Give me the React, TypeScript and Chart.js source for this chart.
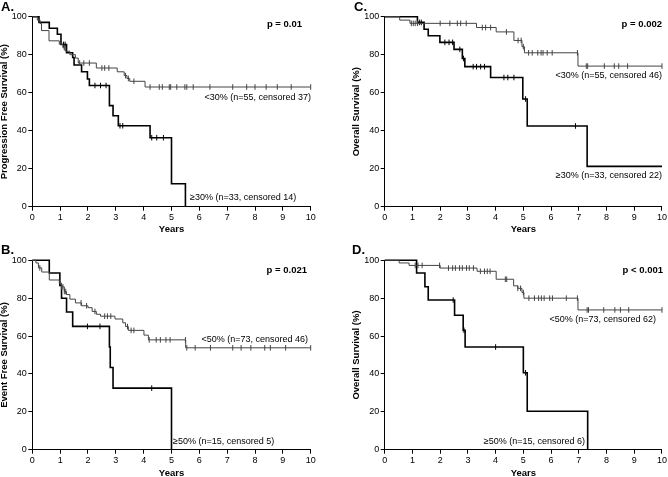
import React, { useEffect, useRef } from "react";
import { Chart, registerables } from "chart.js";
Chart.register(...registerables);

// ---------- Data (years, survival %) ----------
const xTickValues = [0, 1, 2, 3, 4, 5, 6, 7, 8, 9, 10];
const yTickValues = [0, 20, 40, 60, 80, 100];

// Panel A: Progression Free Survival
const aLowTimes = [0, 0.18, 0.28, 0.33, 0.6, 0.97, 1.1, 1.2, 1.35, 1.55, 1.65, 2.3, 3.05, 3.3, 3.4, 3.5, 4.05, 10];
const aLowSurv = [100, 98.2, 96.4, 92.7, 87.3, 85.5, 83.6, 81.8, 80, 78.2, 75.6, 73, 71, 69, 67.5, 66, 63, 63];
const aLowCensor = [1.15, 1.7, 1.85, 2.05, 2.5, 2.6, 2.75, 3.35, 3.45, 3.65, 4.23, 4.56, 4.67, 4.92, 4.97, 5.19, 5.48, 5.55, 5.78, 6.38, 7.2, 7.7, 8.0, 8.4, 8.8, 9.3, 10];
const aHighTimes = [0, 0.24, 0.61, 0.9, 1.03, 1.23, 1.45, 1.5, 1.77, 1.98, 2.05, 2.77, 2.9, 3.09, 4.23, 5.0, 5.5];
const aHighSurv = [100, 97, 93.9, 90.8, 85.4, 81, 78.5, 74.6, 71, 67.2, 63.8, 53.2, 47.9, 42.6, 36.3, 12.1, 0];
const aHighCensor = [1.12, 1.18, 2.25, 2.45, 2.65, 3.15, 3.25, 4.29, 4.47, 4.71];

// Panel B: Event Free Survival
const bLowTimes = [0, 0.13, 0.22, 0.34, 0.61, 0.97, 1.05, 1.15, 1.23, 1.35, 1.55, 1.77, 2.0, 2.15, 2.3, 2.45, 2.97, 3.25, 3.35, 3.45, 4.01, 4.17, 5.51, 10];
const bLowSurv = [100, 98.6, 96, 93.8, 89.6, 88, 86, 83.5, 81.9, 79.5, 77.5, 76, 75, 73, 71.5, 70.5, 69, 67, 65, 63, 60.5, 58, 53.8, 53.8];
const bLowCensor = [0.27, 1.05, 1.1, 1.15, 1.2, 1.75, 1.95, 2.25, 2.6, 2.7, 2.82, 3.42, 3.55, 3.65, 4.2, 4.45, 4.6, 4.8, 4.95, 5.5, 5.55, 5.85, 6.4, 7.2, 7.5, 7.85, 8.35, 8.55, 9.1, 10];
const bHighTimes = [0, 0.61, 0.99, 1.05, 1.23, 1.45, 2.77, 2.8, 2.9, 5.0];
const bHighSurv = [100, 93.3, 86.7, 80, 72.7, 65.1, 54.2, 43.4, 32.5, 0];
const bHighCensor = [1.98, 2.43, 4.29];

// Panel C: Overall Survival (30% cut-off)
const cLowTimes = [0, 0.54, 0.91, 3.31, 4.02, 4.66, 4.95, 5.04, 6.97, 10];
const cLowSurv = [100, 98.2, 96.5, 94.3, 92, 87.5, 84.2, 81, 74, 74];
const cLowCensor = [0.96, 1.03, 1.1, 1.18, 2.0, 2.35, 2.62, 2.74, 2.94, 3.52, 3.64, 3.82, 4.39, 4.81, 4.92, 5.0, 5.19, 5.32, 5.52, 5.64, 5.71, 5.86, 6.04, 6.95, 7.27, 7.32, 7.92, 8.28, 8.44, 8.76, 10];
const cHighTimes = [0, 1.18, 1.42, 1.57, 1.99, 2.5, 2.8, 2.89, 3.82, 4.98, 5.14, 7.3, 10];
const cHighSurv = [100, 97, 93.4, 90, 86.5, 82.8, 78, 73.7, 68, 56.7, 42.5, 21.2, 21.2];
const cHighCensor = [1.25, 1.32, 2.17, 2.32, 2.45, 2.71, 2.84, 3.19, 3.31, 3.46, 3.6, 4.3, 4.44, 4.66, 5.08, 6.88];

// Panel D: Overall Survival (50% cut-off)
const dLowTimes = [0, 0.52, 0.88, 2.0, 3.33, 4.02, 4.65, 4.8, 4.95, 5.02, 6.97, 10];
const dLowSurv = [100, 98.6, 97.3, 95.9, 94.2, 90, 86.5, 85.2, 83, 80, 73.8, 73.8];
const dLowCensor = [1.1, 1.2, 1.35, 1.98, 2.3, 2.45, 2.55, 2.7, 2.8, 2.95, 3.05, 3.2, 3.45, 3.6, 3.7, 3.8, 4.35, 4.4, 4.8, 4.9, 5.0, 5.2, 5.4, 5.55, 5.65, 5.75, 5.95, 6.05, 6.55, 6.95, 7.3, 7.35, 7.9, 8.3, 8.5, 8.8, 10];
const dHighTimes = [0, 1.15, 1.45, 1.57, 2.52, 2.83, 2.9, 5.0, 5.14, 7.32];
const dHighSurv = [100, 93.3, 86, 79, 71, 63, 54.2, 40.6, 20.3, 0];
const dHighCensor = [2.47, 2.86, 4.0, 5.08];

// ---------- Helpers ----------
const FONT = '"Liberation Sans", Arial, Helvetica, sans-serif';
const LOW_COLOR = "#444";
const HIGH_COLOR = "#000";

function survAt(times: number[], surv: number[], t: number) {
  let v = surv[0];
  for (let i = 0; i < times.length; i++) if (times[i] <= t) v = surv[i];
  return v;
}

function stepDataset(times: number[], surv: number[], color: string, width: number) {
  return {
    data: times.map((t, i) => ({ x: t, y: surv[i] })),
    borderColor: color,
    backgroundColor: color,
    borderWidth: width,
    pointRadius: 0,
    pointHoverRadius: 0,
    stepped: "before",
    fill: false,
    tension: 0,
    clip: false,
  };
}

function censorDataset(times: number[], surv: number[], cens: number[], color: string) {
  return {
    data: cens.map((t) => ({ x: t, y: survAt(times, surv, t) })),
    showLine: false,
    pointStyle: "line",
    rotation: 90,
    pointRadius: 2.8,
    pointHoverRadius: 2.8,
    borderColor: color,
    backgroundColor: color,
    pointBorderWidth: 1,
    borderWidth: 1,
    clip: false,
  };
}

const textPlugin = {
  id: "panelText",
  afterDraw(chart: any, _args: any, opts: any) {
    const ctx = chart.ctx;
    for (const t of opts.items || []) {
      ctx.save();
      ctx.font = t.font;
      ctx.fillStyle = "#000";
      ctx.textAlign = t.align;
      ctx.textBaseline = "alphabetic";
      ctx.fillText(t.text, t.x, t.y);
      ctx.restore();
    }
  },
};

type PanelCfg = {
  left: number; top: number; w: number; h: number;
  yWidth: number; xHeight: number; padTop: number; padRight: number;
  yTitle: string; yTitlePad: number; xTitlePad: number;
  low: [number[], number[], number[]];
  high: [number[], number[], number[]];
  texts: { text: string; x: number; y: number; align: string; font: string }[];
};

const LETTER_FONT = `bold 13px ${FONT}`;
const P_FONT = `bold 9.5px ${FONT}`;
const ANN_FONT = `9px ${FONT}`;

const panels: PanelCfg[] = [
  {
    left: 0, top: 0, w: 334, h: 238, yWidth: 32.3, xHeight: 31.3, padTop: 16.7, padRight: 23.3,
    yTitle: "Progression Free Survival (%)", yTitlePad: 0, xTitlePad: 4.7,
    low: [aLowTimes, aLowSurv, aLowCensor], high: [aHighTimes, aHighSurv, aHighCensor],
    texts: [
      { text: "A.", x: 1, y: 10.5, align: "left", font: LETTER_FONT },
      { text: "p = 0.01", x: 302, y: 27, align: "right", font: P_FONT },
      { text: "<30% (n=55, censored 37)", x: 311, y: 100, align: "right", font: ANN_FONT },
      { text: "\u226530% (n=33, censored 14)", x: 190, y: 200, align: "left", font: ANN_FONT },
    ],
  },
  {
    left: 334, top: 0, w: 334, h: 238, yWidth: 50.7, xHeight: 31.3, padTop: 16.7, padRight: 5.7,
    yTitle: "Overall Survival (%)", yTitlePad: 18, xTitlePad: 4.7,
    low: [cLowTimes, cLowSurv, cLowCensor], high: [cHighTimes, cHighSurv, cHighCensor],
    texts: [
      { text: "C.", x: 20, y: 10.5, align: "left", font: LETTER_FONT },
      { text: "p = 0.002", x: 328, y: 27, align: "right", font: P_FONT },
      { text: "<30% (n=55, censored 46)", x: 328, y: 78, align: "right", font: ANN_FONT },
      { text: "\u226530% (n=33, censored 22)", x: 328, y: 178, align: "right", font: ANN_FONT },
    ],
  },
  {
    left: 0, top: 238, w: 334, h: 239, yWidth: 32.3, xHeight: 27.3, padTop: 22.3, padRight: 23.3,
    yTitle: "Event Free Survival (%)", yTitlePad: 0, xTitlePad: 0,
    low: [bLowTimes, bLowSurv, bLowCensor], high: [bHighTimes, bHighSurv, bHighCensor],
    texts: [
      { text: "B.", x: 1, y: 16, align: "left", font: LETTER_FONT },
      { text: "p = 0.021", x: 307, y: 34.5, align: "right", font: P_FONT },
      { text: "<50% (n=73, censored 46)", x: 308, y: 104, align: "right", font: ANN_FONT },
      { text: "\u226550% (n=15, censored 5)", x: 173, y: 206, align: "left", font: ANN_FONT },
    ],
  },
  {
    left: 334, top: 238, w: 334, h: 239, yWidth: 50.7, xHeight: 27.3, padTop: 22.3, padRight: 5.7,
    yTitle: "Overall Survival (%)", yTitlePad: 18, xTitlePad: 0,
    low: [dLowTimes, dLowSurv, dLowCensor], high: [dHighTimes, dHighSurv, dHighCensor],
    texts: [
      { text: "D.", x: 18, y: 16, align: "left", font: LETTER_FONT },
      { text: "p < 0.001", x: 329, y: 35, align: "right", font: P_FONT },
      { text: "<50% (n=73, censored 62)", x: 322, y: 84, align: "right", font: ANN_FONT },
      { text: "\u226550% (n=15, censored 6)", x: 251, y: 206, align: "right", font: ANN_FONT },
    ],
  },
];

function buildConfig(p: PanelCfg): any {
  const [lt, ls, lc] = p.low;
  const [ht, hs, hc] = p.high;
  return {
    type: "line",
    data: {
      datasets: [
        stepDataset(lt, ls, LOW_COLOR, 1),
        censorDataset(lt, ls, lc, LOW_COLOR),
        stepDataset(ht, hs, HIGH_COLOR, 1.6),
        censorDataset(ht, hs, hc, HIGH_COLOR),
      ],
    },
    options: {
      responsive: false,
      animation: false,
      devicePixelRatio: 1,
      events: [],
      layout: { padding: { top: p.padTop, right: p.padRight, left: 0, bottom: 0 } },
      plugins: {
        legend: { display: false },
        tooltip: { enabled: false },
        panelText: { items: p.texts },
      },
      scales: {
        x: {
          type: "linear",
          min: 0,
          max: 10,
          afterBuildTicks: (s: any) => { s.ticks = xTickValues.map((v) => ({ value: v })); },
          afterFit: (s: any) => { s.height = p.xHeight; },
          ticks: { font: { family: FONT, size: 9 }, color: "#000", padding: 1, maxRotation: 0, autoSkip: false },
          grid: { drawOnChartArea: false, drawTicks: true, tickLength: 4, color: "#000", tickColor: "#000" },
          border: { color: "#000", width: 1 },
          title: {
            display: true, text: "Years", color: "#000",
            font: { family: FONT, size: 9.5, weight: "bold", lineHeight: 0.8 },
            padding: { top: 0, bottom: p.xTitlePad },
          },
        },
        y: {
          type: "linear",
          min: 0,
          max: 100,
          afterBuildTicks: (s: any) => { s.ticks = yTickValues.map((v) => ({ value: v })); },
          afterFit: (s: any) => { s.width = p.yWidth; },
          ticks: { font: { family: FONT, size: 9 }, color: "#000", padding: 1.5, autoSkip: false },
          grid: { drawOnChartArea: false, drawTicks: true, tickLength: 4, color: "#000", tickColor: "#000" },
          border: { color: "#000", width: 1 },
          title: {
            display: true, text: p.yTitle, color: "#000",
            font: { family: FONT, size: 9.5, weight: "bold", lineHeight: 1 },
            padding: { top: p.yTitlePad, bottom: 0 },
          },
        },
      },
    },
    plugins: [textPlugin],
  };
}

function Panel({ cfg }: { cfg: PanelCfg }) {
  const ref = useRef<HTMLCanvasElement | null>(null);
  useEffect(() => {
    if (!ref.current) return;
    const chart = new Chart(ref.current, buildConfig(cfg));
    return () => chart.destroy();
  }, [cfg]);
  return (
    <div style={{ position: "absolute", left: cfg.left, top: cfg.top, width: cfg.w, height: cfg.h }}>
      <canvas ref={ref} width={cfg.w} height={cfg.h} style={{ display: "block", width: cfg.w, height: cfg.h }} />
    </div>
  );
}

export default function App() {
  return (
    <div style={{ position: "absolute", left: 0, top: 0, width: 668, height: 477, background: "#fff", overflow: "hidden" }}>
      {panels.map((p, i) => (
        <Panel key={i} cfg={p} />
      ))}
    </div>
  );
}
